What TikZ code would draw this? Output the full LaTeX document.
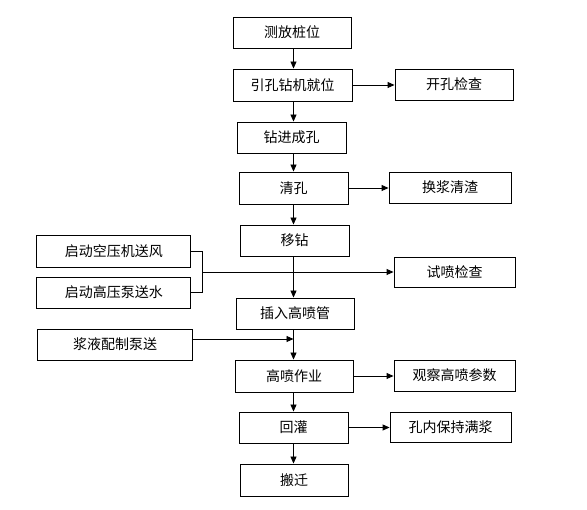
\documentclass[tikz,border=0pt]{standalone}
\usepackage{fontspec}
\setmainfont{Noto Sans CJK SC}
\usetikzlibrary{arrows.meta}
\begin{document}
\begin{tikzpicture}[x=1pt,y=-1pt,
  box/.style={draw,line width=0.9pt,inner sep=0pt,font=\fontsize{14}{16}\selectfont},
  arr/.style={line width=0.9pt,-{Triangle[length=7pt,width=6pt]}},
  ln/.style={line width=0.9pt}]
\useasboundingbox (0,0) rectangle (587,510);
\coordinate (cx) at (293.5,0);
\node[box,minimum width=118pt,minimum height=31pt] (a) at (292,32.5) {测放桩位};
\node[box,minimum width=119pt,minimum height=32pt] (b) at (292.5,85) {引孔钻机就位};
\node[box,minimum width=118pt,minimum height=31pt] (c) at (454,84.5) {开孔检查};
\node[box,minimum width=109pt,minimum height=31pt] (d) at (291.5,137.5) {钻进成孔};
\node[box,minimum width=109pt,minimum height=32pt] (e) at (293.5,188) {清孔};
\node[box,minimum width=122pt,minimum height=31pt] (f) at (450,187.5) {换浆清渣};
\node[box,minimum width=109pt,minimum height=31pt] (g) at (294.5,240.5) {移钻};
\node[box,minimum width=154pt,minimum height=32pt] (h) at (113.75,251) {启动空压机送风};
\node[box,minimum width=154pt,minimum height=31pt] (i) at (113.75,292.5) {启动高压泵送水};
\node[box,minimum width=121pt,minimum height=30pt] (j) at (454.5,272) {试喷检查};
\node[box,minimum width=118pt,minimum height=31pt] (k) at (295,313.5) {插入高喷管};
\node[box,minimum width=155pt,minimum height=31pt] (l) at (115,344.5) {浆液配制泵送};
\node[box,minimum width=118pt,minimum height=32pt] (m) at (294,376) {高喷作业};
\node[box,minimum width=121pt,minimum height=31pt] (n) at (454.5,375.5) {观察高喷参数};
\node[box,minimum width=109pt,minimum height=31pt] (o) at (293.5,427.5) {回灌};
\node[box,minimum width=121pt,minimum height=30pt] (p) at (450.5,427) {孔内保持满浆};
\node[box,minimum width=108pt,minimum height=32pt] (q) at (294,480) {搬迁};
% vertical chain
\draw[arr] (a.south -| cx) -- (b.north -| cx);
\draw[arr] (b.south -| cx) -- (d.north -| cx);
\draw[arr] (d.south -| cx) -- (e.north -| cx);
\draw[arr] (e.south -| cx) -- (g.north -| cx);
\draw[arr] (g.south -| cx) -- (k.north -| cx);
\draw[arr] (k.south -| cx) -- (m.north -| cx);
\draw[arr] (m.south -| cx) -- (o.north -| cx);
\draw[arr] (o.south -| cx) -- (q.north -| cx);
% side arrows
\draw[arr] (b.east) -- (b.east -| c.west);
\draw[arr] (e.east) -- (e.east -| f.west);
\draw[arr] (m.east) -- (m.east -| n.west);
\draw[arr] (o.east) -- (o.east -| p.west);
% bracket
\coordinate (br) at (202.5,272);
\draw[ln] (h.east) -- (h.east -| br) -- (i.east -| br) -- (i.east);
\draw[arr] (br) -- (br -| j.west);
% slurry
\coordinate (sl) at (191.7,339);
\draw[arr] (sl) -- (sl -| cx);
\end{tikzpicture}
\end{document}
